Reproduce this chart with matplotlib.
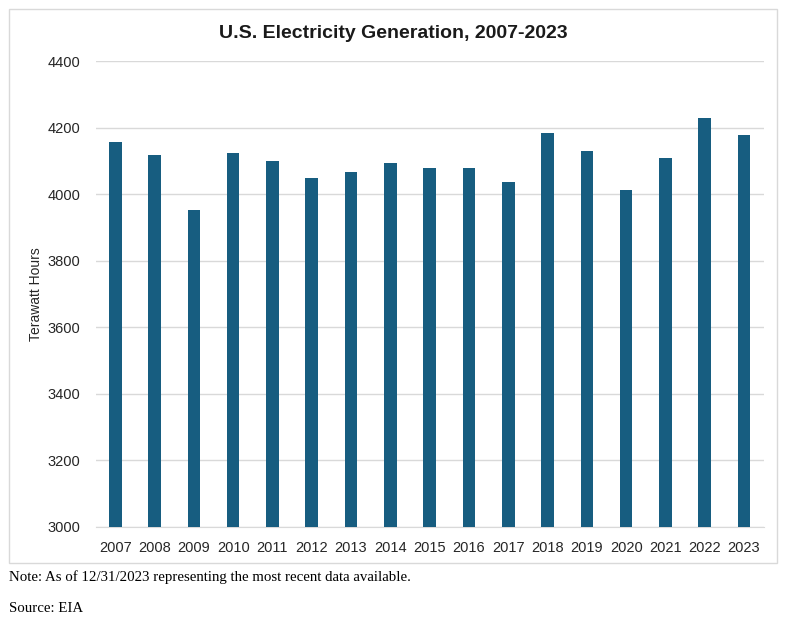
import matplotlib.pyplot as plt
from matplotlib.patches import Rectangle

years = ['2007', '2008', '2009', '2010', '2011', '2012', '2013', '2014', '2015',
         '2016', '2017', '2018', '2019', '2020', '2021', '2022', '2023']
generation = [4158, 4119, 3951, 4125, 4101, 4048, 4066, 4093, 4079,
              4079, 4036, 4183, 4131, 4012, 4110, 4230, 4179]
y_ticks = [3000, 3200, 3400, 3600, 3800, 4000, 4200, 4400]

W, H = 797, 626
fig = plt.figure(figsize=(W / 100, H / 100), dpi=100)

# light grey frame around the chart
fig.patches.append(Rectangle((9 / W, 1 - 563 / H), 768 / W, 554 / H,
                             transform=fig.transFigure, fill=False,
                             edgecolor='#d9d9d9', linewidth=1))

ax = fig.add_axes([95.6 / W, 1 - 527 / H, (763.7 - 95.6) / W, (527 - 61) / H])
x = range(len(years))
ax.bar(x, generation, width=0.32, color='#175d80', zorder=3)

ax.set_xlim(-0.5, len(years) - 0.5)
ax.set_ylim(3000, 4400)
ax.set_yticks(y_ticks)
ax.set_yticklabels([str(v) for v in y_ticks], fontsize=10.5, family='Liberation Sans', color='#262626')
ax.set_xticks(list(x))
ax.set_xticklabels(years, fontsize=10.5, family='Liberation Sans', color='#262626')
ax.tick_params(length=0, pad=10)
ax.tick_params(axis='y', pad=11)
ax.grid(axis='y', color='#d9d9d9', linewidth=1, zorder=0)
for s in ['top', 'right', 'left']:
    ax.spines[s].set_visible(False)
ax.spines['bottom'].set_color('#d9d9d9')

ax.set_ylabel('Terawatt Hours', fontsize=10, family='Liberation Sans', color='#262626')
ax.yaxis.set_label_coords((43 - 95.6) / (763.7 - 95.6), 0.5)

fig.text(393 / W, 1 - 33 / H, 'U.S. Electricity Generation, 2007-2023', ha='center', va='center',
         fontsize=14, fontweight='bold', family='Liberation Sans', color='#1a1a1a')

fig.text(9 / W, 1 - 577 / H, 'Note: As of 12/31/2023 representing the most recent data available.',
         ha='left', va='center', fontsize=10.7, family='Liberation Serif', color='black')
fig.text(9 / W, 1 - 608 / H, 'Source: EIA', ha='left', va='center', fontsize=10.7,
         family='Liberation Serif', color='black')

plt.savefig('out.png', dpi=100)
